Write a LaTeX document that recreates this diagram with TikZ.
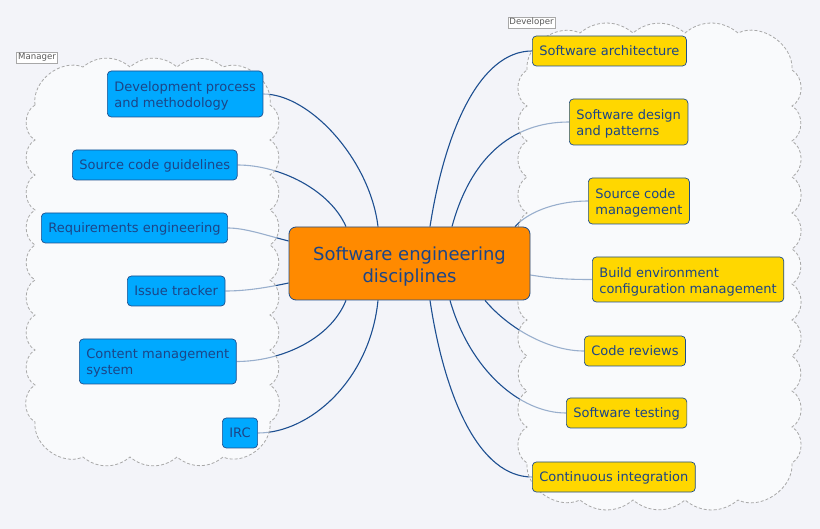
\documentclass[tikz,border=0pt]{standalone}
\usepackage{fontspec}
\setmainfont{DejaVu Sans}
\definecolor{bgc}{HTML}{F3F4F9}
\definecolor{cloudline}{HTML}{A8A8A8}
\definecolor{txtc}{HTML}{1C4587}
\definecolor{edgec}{HTML}{1F4E8C}
\definecolor{linkc}{HTML}{1D4F91}
\definecolor{mblue}{HTML}{00A9FF}
\definecolor{dyellow}{HTML}{FFD700}
\definecolor{corange}{HTML}{FF8A00}
\newcommand\lowr[2]{\raisebox{-#1}[\height][\depth]{#2}}
\pgfdeclarelayer{linklayer}
\pgfdeclarelayer{cloudlayer}
\pgfsetlayers{linklayer,cloudlayer,main}
\begin{document}
\begin{tikzpicture}[x=1pt,y=-1pt,
  cloudshape/.style={draw=cloudline, fill=white, fill opacity=0.55, draw opacity=1, dash pattern=on 3pt off 2pt, line width=0.8pt},
  grouplabel/.style={draw=cloudline, fill=white, text=black!65, font=\fontsize{8.6}{10}\selectfont, inner sep=1.5pt, line width=0.6pt},
  childbox/.style={draw=edgec, rounded corners=4pt, line width=0.7pt, text=txtc, font=\fontsize{13}{16}\selectfont, align=left, inner xsep=7pt, inner ysep=0pt, anchor=west},
  oneline/.style={minimum height=30pt, text height=9.5pt, text depth=0pt},
  mnode/.style={childbox, fill=mblue},
  dnode/.style={childbox, fill=dyellow},
  centerbox/.style={draw=edgec, fill=corange, rounded corners=7pt, line width=0.8pt, text=txtc, font=\fontsize{18}{22}\selectfont, align=center, minimum width=241pt, minimum height=73pt},
  link/.style={draw=linkc, line width=1.1pt}
]
\begin{pgfonlayer}{linklayer}
\fill[bgc] (0,0) rectangle (820,529);
\end{pgfonlayer}
\useasboundingbox (0,0) rectangle (820,529);

% Center
\node[centerbox] (c) at (409.5,263.5) {\lowr{3pt}{Software engineering}\\\lowr{3pt}{disciplines}};

% Manager nodes
\node[mnode, minimum height=46pt] (dev) at (107,94) {\lowr{2pt}{Development process}\\\lowr{2pt}{and methodology}};
\node[mnode, oneline] (scg) at (72,165) {Source code guidelines};
\node[mnode, oneline] (req) at (41,228) {Requirements engineering};
\node[mnode, oneline] (iss) at (127,291) {Issue tracker};
\node[mnode, minimum height=45pt] (cms) at (79,361.5) {\lowr{2pt}{Content management}\\\lowr{2pt}{system}};
\node[mnode, oneline] (irc) at (222,433) {IRC};

% Developer nodes
\node[dnode, oneline] (arch) at (532,51) {Software architecture};
\node[dnode, minimum height=46pt] (des) at (569,122) {\lowr{2pt}{Software design}\\\lowr{2pt}{and patterns}};
\node[dnode, minimum height=46pt] (scm) at (588,201) {\lowr{2pt}{Source code}\\\lowr{2pt}{management}};
\node[dnode, minimum height=45pt] (bld) at (592,279.5) {\lowr{2pt}{Build environment}\\\lowr{2pt}{configuration management}};
\node[dnode, oneline] (rev) at (584,351) {Code reviews};
\node[dnode, oneline] (tst) at (566,413) {Software testing};
\node[dnode, oneline] (ci) at (532,477) {Continuous integration};

% Links (under the translucent clouds)
\begin{pgfonlayer}{linklayer}
\draw[link] ([xshift=-31.5pt]c.north) .. controls (370,160) and (310,94) .. (dev.east);
\draw[link] ([xshift=-63.5pt]c.north) .. controls (330,190) and (280,165) .. (scg.east);
\draw[link] ([yshift=22.5pt]c.west) .. controls (265,235) and (245,228) .. (req.east);
\draw[link] ([yshift=-19.5pt]c.west) .. controls (265,288) and (245,291) .. (iss.east);
\draw[link] ([xshift=-63.5pt]c.south) .. controls (330,340) and (280,361.5) .. (cms.east);
\draw[link] ([xshift=-31.5pt]c.south) .. controls (370,380) and (310,433) .. (irc.east);
\draw[link] ([xshift=20.5pt]c.north) .. controls (445,130) and (480,51) .. (arch.west);
\draw[link] ([xshift=42.5pt]c.north) .. controls (470,160) and (510,122) .. (des.west);
\draw[link] ([xshift=105.5pt]c.north) .. controls (530,210) and (560,201) .. (scm.west);
\draw[link] ([yshift=-11.5pt]c.east) .. controls (555,279) and (570,279.5) .. (bld.west);
\draw[link] ([xshift=75.5pt]c.south) .. controls (510,330) and (550,351) .. (rev.west);
\draw[link] ([xshift=40.5pt]c.south) .. controls (470,370) and (520,413) .. (tst.west);
\draw[link] ([xshift=20.5pt]c.south) .. controls (445,400) and (480,477) .. (ci.west);
\end{pgfonlayer}

\begin{pgfonlayer}{cloudlayer}
% Manager cloud
\draw[cloudshape] (35,105) to[bend left=60] (83,67)
  \foreach \x in {130,177,223} { to[bend left=40] (\x,67) }
  to[bend left=60] (270,105)
  \foreach \y in {140,175,210,245,280,315,350,385,422} { to[bend left=60] (270,\y) }
  to[bend left=60] (223,457)
  \foreach \x in {177,130,83} { to[bend left=40] (\x,457) }
  to[bend left=60] (35,422)
  \foreach \y in {385,350,315,280,245,210,175,140,105} { to[bend left=60] (35,\y) };
\node[grouplabel] (mlabel) at (37,57.5) {Manager};

% Developer cloud
\draw[cloudshape] (527,70) to[bend left=60] (580,33)
  \foreach \x in {633,685,738} { to[bend left=40] (\x,33) }
  to[bend left=60] (792,70)
  \foreach \y in {106,141,177,213,249,284,320,356,391,427,463} { to[bend left=60] (792,\y) }
  to[bend left=60] (738,500)
  \foreach \x in {685,633,580} { to[bend left=40] (\x,500) }
  to[bend left=60] (527,463)
  \foreach \y in {427,391,356,320,284,249,213,177,141,106,70} { to[bend left=60] (527,\y) };
\node[grouplabel] (dlabel) at (531.5,22.5) {Developer};
\end{pgfonlayer}
\end{tikzpicture}
\end{document}
